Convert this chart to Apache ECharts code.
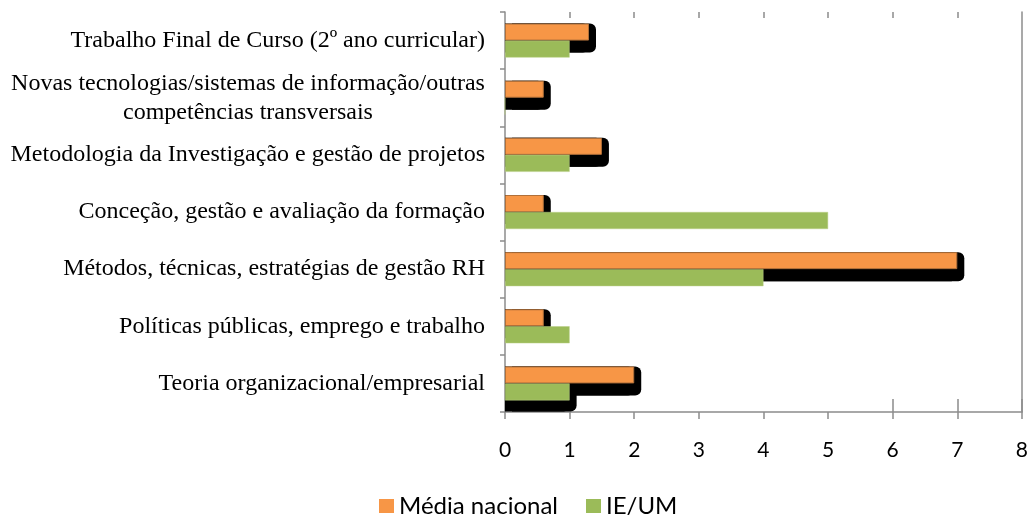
<!DOCTYPE html>
<html><head><meta charset="utf-8">
<script src="https://cdn.jsdelivr.net/npm/echarts@6/dist/echarts.min.js"></script>
<style>html,body{margin:0;padding:0;background:#fff}#c{width:1031px;height:515px}</style>
</head><body><div id="c"></div>
<script>
const categories = [
  'Teoria organizacional/empresarial',
  'Políticas públicas, emprego e trabalho',
  'Métodos, técnicas, estratégias de gestão RH',
  'Conceção, gestão e avaliação da formação',
  'Metodologia da Investigação e gestão de projetos',
  'Novas tecnologias/sistemas de informação/outras\ncompetências transversais',
  'Trabalho Final de Curso (2º ano curricular)'
];
const mediaNacional = [2, 0.6, 7, 0.6, 1.5, 0.6, 1.3];
const ieum = [1, 1, 4, 5, 1, 0, 1];
const ieumShadow = [1, null, null, null, null, null, null];
const topTicks = [1, 2, 3, 4, 5, 6, 7];
const bottomInnerTicks = [6, 7, 8];

const serif = 'Liberation Serif';
const labelSize = 24;
const ctx = document.createElement('canvas').getContext('2d');
ctx.font = labelSize + 'px "' + serif + '"';
const multiWidth = Math.ceil(Math.max(...categories.filter(c => c.includes('\n'))
  .flatMap(c => c.split('\n')).map(l => ctx.measureText(l).width)));

const axisGray = '#8c8c8c';
const chart = echarts.init(document.getElementById('c'));
chart.setOption({
  animation: false,
  backgroundColor: '#fff',
  grid: { left: 505, right: 6, top: 12, bottom: 103 },
  legend: {
    data: ['Média nacional', 'IE/UM'],
    left: 374, top: 489,
    itemWidth: 15, itemHeight: 14, itemGap: 28,
    icon: 'rect',
    itemStyle: { borderWidth: 0 },
    textStyle: { fontFamily: 'Lato', fontSize: 24, color: '#000', padding: [0, 0, 0, 0] }
  },
  xAxis: [
    {
      type: 'value', min: 0, max: 8, interval: 1, position: 'bottom',
      axisLine: { show: true, lineStyle: { color: axisGray, width: 1.5 } },
      axisTick: { show: true, length: 7, lineStyle: { color: axisGray, width: 1.5 } },
      splitLine: { show: false },
      axisLabel: { fontFamily: 'Lato', fontSize: 21, color: '#000', margin: 28 }
    },
    {
      type: 'value', min: 0, max: 8, interval: 1, position: 'top',
      axisLine: { show: false },
      axisTick: { show: true, inside: true, length: 6, customValues: topTicks, lineStyle: { color: axisGray, width: 1.5 } },
      axisLabel: { show: false }, splitLine: { show: false }
    },
    {
      type: 'value', min: 0, max: 8, interval: 1, position: 'bottom', offset: 0,
      axisLine: { show: false },
      axisTick: { show: true, inside: true, length: 13, customValues: bottomInnerTicks, lineStyle: { color: axisGray, width: 1.5 } },
      axisLabel: { show: false }, splitLine: { show: false }
    }
  ],
  yAxis: [
    {
      type: 'category', data: categories, position: 'left',
      axisLine: { show: true, lineStyle: { color: axisGray, width: 1.5 } },
      axisTick: { show: true, length: 5, lineStyle: { color: axisGray, width: 1.5 } },
      axisLabel: {
        fontFamily: serif, fontSize: labelSize, color: '#000', margin: 20, lineHeight: 29,
        formatter: v => v.includes('\n') ? v.split('\n').map(l => '{c|' + l + '}').join('\n') : v,
        rich: { c: { width: multiWidth, align: 'center', fontFamily: serif, fontSize: labelSize, color: '#000', lineHeight: 29 } }
      }
    },
    { type: 'category', data: categories, position: 'left', show: false },
    { type: 'category', data: categories, position: 'left', show: false },
    {
      type: 'category', data: categories, position: 'right',
      axisLine: { show: true, onZero: false, lineStyle: { color: axisGray, width: 1.5 } },
      axisTick: { show: false }, axisLabel: { show: false }
    }
  ],
  series: [
    {
      name: 'Média nacional', type: 'bar', data: mediaNacional, xAxisIndex: 0, yAxisIndex: 0,
      barWidth: 17, barGap: '0%', z: 3,
      itemStyle: { color: '#F79646', borderColor: '#b0703a', borderWidth: 1 }
    },
    {
      name: 'IE/UM', type: 'bar', data: ieum, xAxisIndex: 0, yAxisIndex: 0,
      barWidth: 17, barGap: '0%', z: 3,
      itemStyle: { color: '#9BBB59', borderColor: '#b8cf86', borderWidth: 0.5 }
    },
    {
      name: 'sombraMN', type: 'bar', data: mediaNacional, xAxisIndex: 0, yAxisIndex: 1,
      barWidth: 29, barGap: '0%', z: 1, silent: true,
      itemStyle: { color: '#000', borderRadius: [0, 6, 6, 0], shadowColor: '#000', shadowOffsetX: 7, shadowBlur: 0 }
    },
    {
      name: 'vazioMN', type: 'bar', data: mediaNacional, xAxisIndex: 0, yAxisIndex: 1,
      barWidth: 5, barGap: '0%', z: 1, silent: true,
      itemStyle: { opacity: 0 }
    },
    {
      name: 'vazioIE', type: 'bar', data: ieumShadow, xAxisIndex: 0, yAxisIndex: 2,
      barWidth: 28, barGap: '0%', z: 1, silent: true,
      itemStyle: { opacity: 0 }
    },
    {
      name: 'sombraIE', type: 'bar', data: ieumShadow, xAxisIndex: 0, yAxisIndex: 2,
      barWidth: 28, barGap: '0%', z: 1, silent: true,
      itemStyle: { color: '#000', borderRadius: [0, 6, 6, 0], shadowColor: '#000', shadowOffsetX: 7, shadowBlur: 0 }
    }
  ]
});
</script></body></html>
